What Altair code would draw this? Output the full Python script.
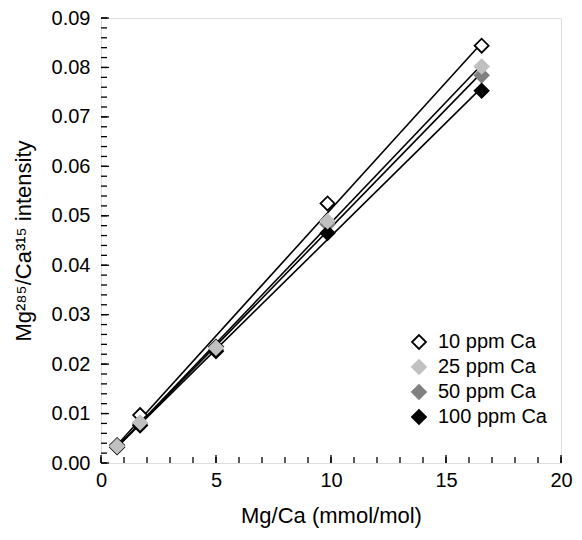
import altair as alt
import pandas as pd

# ---- data ----
mg_ca = [0.7, 1.7, 5.0, 9.85, 16.55]
series_names = ["10 ppm Ca", "25 ppm Ca", "50 ppm Ca", "100 ppm Ca"]
ppm10 = [0.0036, 0.0097, 0.0235, 0.0525, 0.0844]
ppm25 = [0.0034, 0.0082, 0.0233, 0.0489, 0.0802]
ppm50 = [0.0033, 0.0079, 0.0229, 0.0483, 0.0784]
ppm100 = [0.0032, 0.0076, 0.0226, 0.0465, 0.0753]

fills = ["#ffffff", "#c0c0c0", "#808080", "#000000"]
strokes = ["#000000", "#c0c0c0", "#808080", "#000000"]

# axis ticks
x_major = [0, 5, 10, 15, 20]
x_minor = [0, 1, 2, 3, 4, 5, 6, 7, 8, 9, 10, 11, 12, 13, 14, 15, 16, 17, 18, 19, 20]
y_major = [0.0, 0.01, 0.02, 0.03, 0.04, 0.05, 0.06, 0.07, 0.08, 0.09]
y_minor = [0.0, 0.002, 0.004, 0.006, 0.008, 0.01, 0.012, 0.014, 0.016, 0.018,
           0.02, 0.022, 0.024, 0.026, 0.028, 0.03, 0.032, 0.034, 0.036, 0.038,
           0.04, 0.042, 0.044, 0.046, 0.048, 0.05, 0.052, 0.054, 0.056, 0.058,
           0.06, 0.062, 0.064, 0.066, 0.068, 0.07, 0.072, 0.074, 0.076, 0.078,
           0.08, 0.082, 0.084, 0.086, 0.088, 0.09]

values = {
    "10 ppm Ca": ppm10,
    "25 ppm Ca": ppm25,
    "50 ppm Ca": ppm50,
    "100 ppm Ca": ppm100,
}
draw_order = ["10 ppm Ca", "50 ppm Ca", "100 ppm Ca", "25 ppm Ca"]
rows = []
for s in draw_order:
    for x, y in zip(mg_ca, values[s]):
        rows.append({"mgca": x, "ratio": y, "series": s})
df = pd.DataFrame(rows)

W, H = 460, 445
FONT = "Liberation Sans"

xscale = alt.Scale(domain=[0, 20], nice=False, zero=False)
yscale = alt.Scale(domain=[0, 0.09], nice=False, zero=False)

x_axis = alt.Axis(values=x_major, format="d", ticks=False, domain=False, grid=False,
                  labelFontSize=20, labelPadding=7, labelColor="black",
                  title="Mg/Ca (mmol/mol)", titleFontSize=22, titleFontWeight="normal",
                  titlePadding=15, titleColor="black", labelFlush=False)
y_axis = alt.Axis(values=y_major, format=".2f", ticks=False, domain=False, grid=False,
                  labelFontSize=20, labelPadding=11, labelColor="black",
                  title="Mg²⁸⁵/Ca³¹⁵ intensity", titleFontSize=22, titleFontWeight="normal",
                  titlePadding=16, titleColor="black", labelFlush=False)

X = alt.X("mgca:Q", scale=xscale, axis=x_axis)
Y = alt.Y("ratio:Q", scale=yscale, axis=y_axis)

legend = alt.Legend(orient="none", legendX=308, legendY=314, title=None,
                    labelFontSize=20, labelFont=FONT, labelColor="black",
                    symbolSize=196, symbolStrokeWidth=1.8, symbolType="diamond",
                    rowPadding=3, labelOffset=9, padding=0)

lines = alt.Chart(df).transform_regression(
    "mgca", "ratio", groupby=["series"]
).mark_line(color="black", strokeWidth=1.6).encode(
    x=X, y=Y, detail="series:N"
)

points = alt.Chart(df).mark_point(
    shape="diamond", size=196, filled=True, strokeWidth=1.8, opacity=1
).encode(
    x=X, y=Y,
    fill=alt.Fill("series:N", scale=alt.Scale(domain=series_names, range=fills), legend=legend),
    stroke=alt.Stroke("series:N", scale=alt.Scale(domain=series_names, range=strokes), legend=legend),
)

xt_minor = alt.Chart(pd.DataFrame({"mgca": x_minor})).mark_rule(
    color="black", strokeWidth=1.3
).encode(x=X, y=alt.value(H), y2=alt.value(H - 6))
xt_major = alt.Chart(pd.DataFrame({"mgca": x_major})).mark_rule(
    color="black", strokeWidth=1.3
).encode(x=X, y=alt.value(H), y2=alt.value(H - 8))
yt_minor = alt.Chart(pd.DataFrame({"ratio": y_minor})).mark_rule(
    color="black", strokeWidth=1.3
).encode(y=Y, x=alt.value(0), x2=alt.value(6))
yt_major = alt.Chart(pd.DataFrame({"ratio": y_major})).mark_rule(
    color="black", strokeWidth=1.3
).encode(y=Y, x=alt.value(0), x2=alt.value(8))

chart = alt.layer(lines, xt_minor, xt_major, yt_minor, yt_major, points).properties(
    width=W, height=H,
    autosize=alt.AutoSizeParams(type="none"),
    padding={"left": 93, "top": 10, "right": 13, "bottom": 70},
    background="white",
).configure_view(
    stroke="black", strokeWidth=1.6
).configure(
    font=FONT
).configure_axis(
    labelFont=FONT, titleFont=FONT
)

chart.save("out.html", embed_options={"renderer": "svg", "actions": False})
